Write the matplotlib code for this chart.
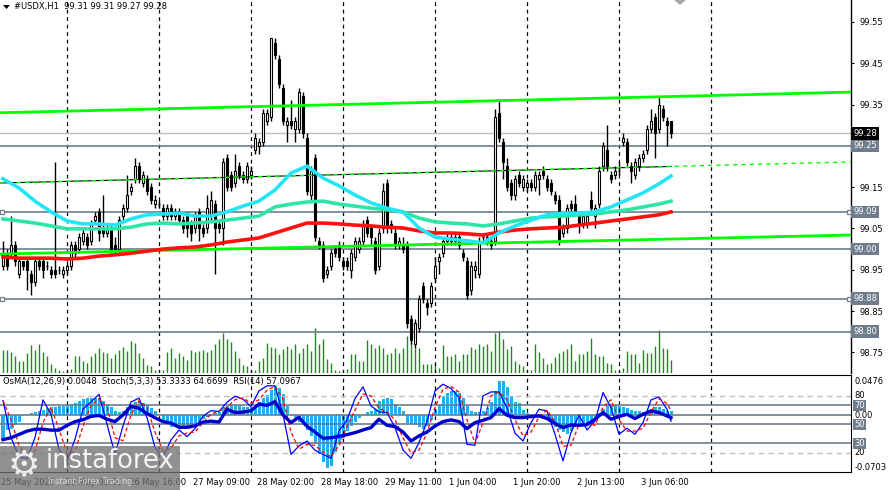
import numpy as np
import matplotlib.pyplot as plt
from matplotlib.patches import Rectangle, Polygon

W, H = 888, 490

# ---- H1 candles, #USDX (25 May - 3 Jun 2020) ----
opens = [
    98.96, 98.99, 98.99, 99.01, 98.94, 98.97, 98.97, 98.94, 98.92, 98.97, 98.97, 98.96,
    98.95, 98.95, 98.95, 98.94, 98.95, 98.96, 99.01, 99.00, 99.02, 99.03, 99.02, 99.07,
    99.09, 99.05, 99.04, 99.05, 99.01, 99.00, 99.08, 99.10, 99.14, 99.17, 99.20, 99.16,
    99.17, 99.15, 99.11, 99.11, 99.10, 99.08, 99.10, 99.08, 99.09, 99.07, 99.08, 99.06,
    99.05, 99.09, 99.05, 99.05, 99.08, 99.11, 99.06, 99.05, 99.22, 99.18, 99.16, 99.20,
    99.18, 99.17, 99.18, 99.24, 99.25, 99.26, 99.31, 99.32, 99.50, 99.46, 99.39, 99.30,
    99.31, 99.29, 99.29, 99.37, 99.27, 99.13, 99.22, 99.02, 99.01, 98.94, 98.96, 99.00,
    99.01, 98.97, 98.97, 98.95, 98.98, 99.00, 99.02, 99.07, 99.05, 99.02, 98.96, 99.05,
    99.16, 99.06, 99.04, 99.01, 99.01, 99.01, 98.83, 98.77, 98.81, 98.91, 98.87, 98.87,
    98.93, 98.97, 98.99, 99.02, 99.03, 99.03, 99.03, 98.99, 98.97, 98.90, 98.95, 98.94,
    99.03, 99.02, 99.02, 99.02, 99.33, 99.26, 99.20, 99.16, 99.13, 99.18, 99.15, 99.15,
    99.16, 99.15, 99.17, 99.19, 99.17, 99.16, 99.13, 99.12, 99.04, 99.05, 99.11, 99.11,
    99.08, 99.06, 99.06, 99.12, 99.08, 99.11, 99.20, 99.24, 99.18, 99.18, 99.19, 99.26,
    99.26, 99.20, 99.18, 99.20, 99.22, 99.24, 99.29, 99.32, 99.29, 99.34, 99.31, 99.31,
]
highs = [
    99.02, 99.00, 99.08, 99.02, 98.98, 98.97, 98.98, 98.95, 98.98, 98.98, 98.98, 98.97,
    98.96, 99.21, 98.96, 98.96, 98.97, 99.02, 99.02, 99.04, 99.05, 99.04, 99.07, 99.09,
    99.10, 99.13, 99.06, 99.06, 99.03, 99.08, 99.11, 99.18, 99.16, 99.22, 99.21, 99.19,
    99.18, 99.16, 99.13, 99.12, 99.11, 99.11, 99.11, 99.10, 99.10, 99.08, 99.09, 99.07,
    99.09, 99.10, 99.06, 99.13, 99.14, 99.12, 99.07, 99.22, 99.23, 99.19, 99.23, 99.21,
    99.19, 99.21, 99.20, 99.28, 99.27, 99.34, 99.34, 99.51, 99.51, 99.47, 99.40, 99.32,
    99.36, 99.32, 99.39, 99.38, 99.28, 99.20, 99.23, 99.03, 99.02, 98.96, 99.00, 99.01,
    99.02, 98.98, 98.98, 99.00, 99.03, 99.03, 99.07, 99.08, 99.06, 99.03, 99.05, 99.16,
    99.17, 99.07, 99.05, 99.03, 99.03, 99.02, 98.84, 98.83, 98.89, 98.92, 98.88, 98.92,
    98.98, 98.99, 99.03, 99.04, 99.04, 99.04, 99.04, 99.00, 98.98, 98.97, 98.97, 99.03,
    99.04, 99.04, 99.03, 99.34, 99.36, 99.27, 99.22, 99.17, 99.18, 99.19, 99.18, 99.17,
    99.17, 99.19, 99.19, 99.20, 99.18, 99.17, 99.14, 99.13, 99.06, 99.11, 99.12, 99.13,
    99.09, 99.09, 99.09, 99.14, 99.11, 99.20, 99.26, 99.30, 99.19, 99.20, 99.21, 99.28,
    99.27, 99.21, 99.22, 99.23, 99.24, 99.30, 99.34, 99.33, 99.37, 99.35, 99.32, 99.31,
]
lows = [
    98.95, 98.95, 98.98, 98.96, 98.93, 98.95, 98.90, 98.89, 98.91, 98.95, 98.93, 98.95,
    98.93, 98.93, 98.94, 98.93, 98.94, 98.95, 98.98, 98.99, 99.01, 99.00, 99.01, 99.06,
    99.02, 99.03, 99.03, 98.99, 98.99, 98.99, 99.07, 99.09, 99.13, 99.16, 99.16, 99.15,
    99.13, 99.11, 99.10, 99.10, 99.07, 99.07, 99.07, 99.07, 99.06, 99.04, 99.03, 99.02,
    99.04, 99.02, 99.03, 99.04, 99.07, 98.94, 99.04, 99.01, 99.14, 99.14, 99.15, 99.17,
    99.16, 99.16, 99.17, 99.23, 99.23, 99.25, 99.30, 99.31, 99.46, 99.39, 99.30, 99.26,
    99.29, 99.26, 99.28, 99.27, 99.13, 99.12, 99.02, 99.00, 98.92, 98.93, 98.95, 98.98,
    98.97, 98.95, 98.95, 98.93, 98.97, 98.99, 99.01, 99.03, 99.01, 98.94, 98.95, 99.04,
    99.04, 99.04, 99.00, 99.00, 98.99, 98.81, 98.77, 98.76, 98.80, 98.87, 98.84, 98.86,
    98.92, 98.94, 98.98, 99.01, 99.01, 99.01, 99.00, 98.97, 98.88, 98.89, 98.93, 98.93,
    99.02, 99.01, 99.00, 99.01, 99.26, 99.17, 99.14, 99.12, 99.12, 99.15, 99.14, 99.14,
    99.14, 99.14, 99.13, 99.17, 99.14, 99.13, 99.11, 99.01, 99.03, 99.04, 99.09, 99.08,
    99.04, 99.05, 99.05, 99.09, 99.05, 99.10, 99.19, 99.19, 99.16, 99.17, 99.18, 99.25,
    99.20, 99.16, 99.17, 99.19, 99.21, 99.23, 99.28, 99.22, 99.28, 99.31, 99.25, 99.27,
]
closes = [
    98.99, 98.96, 99.01, 98.97, 98.97, 98.96, 98.95, 98.92, 98.97, 98.96, 98.95, 98.96,
    98.94, 98.94, 98.95, 98.95, 98.96, 99.01, 98.99, 99.03, 99.04, 99.01, 99.06, 99.08,
    99.04, 99.04, 99.05, 99.00, 99.00, 99.07, 99.10, 99.13, 99.15, 99.20, 99.17, 99.18,
    99.14, 99.12, 99.12, 99.11, 99.08, 99.10, 99.08, 99.09, 99.07, 99.05, 99.05, 99.04,
    99.08, 99.05, 99.04, 99.10, 99.12, 99.05, 99.05, 99.21, 99.15, 99.15, 99.19, 99.18,
    99.17, 99.20, 99.19, 99.27, 99.26, 99.33, 99.33, 99.51, 99.47, 99.40, 99.31, 99.31,
    99.30, 99.31, 99.38, 99.28, 99.14, 99.19, 99.03, 99.01, 98.93, 98.95, 98.99, 98.99,
    98.98, 98.96, 98.96, 98.99, 99.02, 99.02, 99.06, 99.04, 99.03, 98.95, 99.04, 99.14,
    99.05, 99.05, 99.01, 99.02, 99.00, 98.82, 98.78, 98.82, 98.88, 98.88, 98.86, 98.91,
    98.96, 98.98, 99.02, 99.03, 99.02, 99.02, 99.01, 98.98, 98.89, 98.96, 98.96, 99.02,
    99.03, 99.03, 99.01, 99.32, 99.27, 99.21, 99.15, 99.13, 99.17, 99.16, 99.17, 99.16,
    99.15, 99.18, 99.18, 99.18, 99.15, 99.14, 99.12, 99.02, 99.05, 99.10, 99.10, 99.09,
    99.06, 99.08, 99.08, 99.10, 99.10, 99.19, 99.25, 99.20, 99.17, 99.19, 99.19, 99.27,
    99.21, 99.19, 99.21, 99.22, 99.23, 99.29, 99.31, 99.28, 99.35, 99.32, 99.30, 99.28,
]
volumes = [
    23, 23, 21, 17, 12, 12, 20, 28, 23, 29, 21, 17,
    9, 5, 3, 2, 2, 4, 17, 17, 12, 10, 17, 20,
    25, 21, 20, 15, 19, 23, 26, 22, 32, 30, 20, 15,
    8, 7, 3, 3, 3, 21, 25, 15, 20, 17, 13, 23,
    21, 22, 23, 21, 23, 29, 34, 40, 34, 31, 22, 15,
    8, 7, 3, 3, 12, 15, 30, 26, 25, 19, 24, 27,
    24, 29, 20, 25, 29, 22, 45, 29, 34, 14, 10, 3,
    2, 2, 4, 19, 19, 12, 12, 33, 29, 25, 28, 25,
    19, 20, 25, 20, 25, 37, 31, 25, 25, 9, 9, 9,
    10, 5, 28, 17, 17, 19, 12, 19, 19, 26, 24, 29,
    27, 29, 22, 40, 42, 34, 24, 27, 12, 9, 7, 3,
    3, 29, 21, 15, 9, 10, 16, 20, 22, 24, 29, 12,
    19, 19, 22, 35, 19, 17, 17, 10, 9, 3, 2, 5,
    22, 19, 19, 10, 23, 20, 20, 27, 43, 25, 24, 13,
]

# moving averages, read every 4th bar
ma_bars = list(range(0, 168, 4)) + [167]
ma_fast = [
    99.170, 99.148, 99.116, 99.090, 99.068, 99.061, 99.061, 99.058, 99.073, 99.083,
    99.085, 99.087, 99.080, 99.080, 99.090, 99.104, 99.116, 99.143, 99.184, 99.201,
    99.172, 99.153, 99.131, 99.112, 99.099, 99.090, 99.051, 99.029, 99.024, 99.020,
    99.015, 99.039, 99.056, 99.070, 99.083, 99.087, 99.087, 99.090, 99.102, 99.119,
    99.136, 99.158, 99.177,
]
ma_mid = [
    99.073, 99.068, 99.063, 99.056, 99.049, 99.049, 99.049, 99.049, 99.053, 99.061,
    99.063, 99.061, 99.063, 99.066, 99.070, 99.075, 99.080, 99.102, 99.109, 99.114,
    99.116, 99.109, 99.104, 99.099, 99.095, 99.090, 99.075, 99.066, 99.063, 99.061,
    99.056, 99.061, 99.068, 99.075, 99.078, 99.080, 99.083, 99.085, 99.090, 99.095,
    99.102, 99.109, 99.116,
]
ma_slow = [
    98.981, 98.978, 98.978, 98.978, 98.976, 98.978, 98.983, 98.986, 98.990, 98.995,
    99.000, 99.003, 99.005, 99.010, 99.017, 99.022, 99.027, 99.039, 99.051, 99.063,
    99.063, 99.061, 99.058, 99.056, 99.053, 99.051, 99.044, 99.039, 99.039, 99.037,
    99.034, 99.041, 99.046, 99.049, 99.051, 99.053, 99.058, 99.063, 99.068, 99.073,
    99.078, 99.083, 99.090,
]

# drawn objects
chart_span = [-0.75, 212]
upper_channel = [99.330, 99.380]
lower_channel = [98.988, 99.034]
mid_trend = [99.160, 99.211]
mid_trend_black = [99.160, 99.200]
levels = [99.25, 99.09, 99.00, 98.88, 98.80]
marked_levels = [99.09, 98.88]
bid = 99.28
price_ticks = [98.75, 98.85, 98.95, 99.05, 99.15, 99.35, 99.45, 99.55]
day_breaks = [16, 39, 62, 85, 108, 131, 154, 177]
time_bars = [0, 16, 32, 48, 64, 80, 96, 112, 128, 144, 160]
time_labels = ["25 May 2020", "26 May 00:00", "26 May 16:00", "27 May 09:00",
               "28 May 02:00", "28 May 18:00", "29 May 11:00", "1 Jun 04:00",
               "1 Jun 20:00", "2 Jun 13:00", "3 Jun 06:00"]

# ---- oscillators ----
osma = [
    -0.028, -0.018, -0.017, -0.012, -0.008, 0.001, 0.002, 0.003, 0.004, 0.006, 0.007, 0.009,
    0.010, 0.011, 0.012, 0.012, 0.013, 0.014, 0.015, 0.018, 0.020, 0.021, 0.022, 0.022,
    0.021, 0.018, 0.014, 0.010, 0.006, 0.004, 0.006, 0.010, 0.013, 0.016, 0.017, 0.015,
    0.013, 0.009, 0.005, 0.001, -0.010, -0.012, -0.014, -0.015, -0.016, -0.016, -0.015, -0.013,
    -0.011, -0.008, -0.004, -0.002, 0.002, 0.003, 0.004, 0.010, 0.012, 0.013, 0.013, 0.012,
    0.011, 0.010, 0.010, 0.012, 0.016, 0.021, 0.025, 0.031, 0.036, 0.034, 0.026, 0.012,
    0.002, -0.005, -0.008, -0.011, -0.018, -0.026, -0.036, -0.048, -0.058, -0.065, -0.063, -0.046,
    -0.036, -0.028, -0.020, -0.013, -0.008, -0.003, 0.002, 0.004, 0.006, 0.008, 0.018, 0.020,
    0.022, 0.020, 0.014, 0.010, 0.006, -0.009, -0.011, -0.012, -0.014, -0.017, -0.013, -0.006,
    0.007, 0.014, 0.024, 0.028, 0.030, 0.030, 0.028, 0.022, 0.012, 0.005, 0.004, 0.004,
    0.005, 0.009, 0.016, 0.030, 0.043, 0.043, 0.035, 0.024, 0.016, 0.015, 0.007, 0.003,
    0.002, 0.001, 0.002, -0.002, -0.006, -0.009, -0.015, -0.018, -0.021, -0.023, -0.019, -0.014,
    -0.013, -0.011, -0.010, -0.007, -0.003, 0.003, 0.008, 0.013, 0.014, 0.013, 0.012, 0.011,
    0.009, 0.007, 0.006, 0.005, 0.004, 0.006, 0.008, 0.010, 0.011, 0.008, 0.006, 0.0048,
]
osc_bars = list(range(0, 168, 2)) + [167]
stoch_main = [
    75.0, 36.2, 16.1, 14.0, 36.2, 75.8, 60.7, 23.9, 11.6, 34.4, 66.0, 73.7,
    81.8, 50.2, 18.6, 48.4, 73.7, 77.6, 57.2, 25.6, 16.1, 33.7, 44.2, 37.2,
    45.6, 58.6, 64.6, 63.5, 73.4, 79.7, 76.5, 68.8, 85.3, 90.6, 90.6, 60.7,
    18.6, 27.4, 32.6, 22.8, 18.6, 14.4, 43.2, 54.8, 77.2, 89.5, 69.5, 63.2,
    62.5, 46.7, 23.2, 14.4, 30.9, 52.7, 85.3, 92.3, 87.8, 78.3, 29.1, 28.1,
    80.0, 84.2, 84.2, 67.7, 40.7, 32.6, 51.9, 66.0, 64.2, 39.7, 11.6, 41.4,
    59.7, 44.2, 53.7, 83.5, 67.7, 39.7, 46.0, 39.7, 51.9, 75.8, 79.0, 66.0,
    53.3,
]
stoch_signal = [
    75, 55, 28, 17, 22, 52, 68, 45, 20, 22, 48, 70,
    77, 68, 36, 33, 60, 75, 68, 42, 22, 25, 38, 41,
    42, 52, 61, 64, 68, 76, 78, 72, 76, 86, 90, 77,
    42, 24, 29, 28, 21, 16, 28, 48, 65, 82, 80, 67,
    63, 55, 36, 20, 23, 41, 68, 87, 90, 84, 55, 30,
    52, 80, 84, 76, 55, 38, 42, 58, 65, 53, 27, 28,
    50, 52, 49, 68, 76, 55, 43, 43, 46, 63, 77, 72,
    64.7,
]
rsi = [
    34.0, 36.0, 39.5, 43.0, 45.0, 45.0, 44.0, 44.0, 49.0, 53.0, 55.0, 58.5,
    59.5, 55.5, 53.0, 60.0, 69.0, 67.0, 61.5, 57.0, 53.0, 51.5, 47.0, 47.0,
    48.5, 52.5, 53.5, 52.5, 66.0, 62.5, 63.0, 64.5, 71.5, 70.0, 74.0, 60.0,
    52.0, 57.5, 48.0, 42.0, 35.5, 36.0, 37.5, 39.3, 41.4, 44.2, 46.7, 55.5,
    49.1, 47.7, 42.1, 32.6, 37.9, 42.1, 48.4, 53.0, 54.8, 53.0, 45.6, 51.9,
    54.4, 57.2, 66.7, 59.7, 57.2, 57.2, 58.3, 59.0, 56.2, 51.2, 46.7, 49.5,
    49.1, 49.8, 55.5, 62.5, 55.5, 58.3, 60.7, 56.2, 60.7, 64.2, 62.5, 59.0,
    57.1,
]

# ---- figure ----
fig = plt.figure(figsize=(W / 100, H / 100), dpi=100)
fig.patch.set_facecolor("white")
FONT = "DejaVu Sans"
FS = 6.0
SLATE = "#6f7d8c"


def px(x, y):
    return x / W, 1 - y / H


main_rect = [0, 1 - 373 / H, 851 / W, 373 / H]
ax_vol = fig.add_axes(main_rect)
ax = fig.add_axes(main_rect)
ax.patch.set_alpha(0)
ax_low = fig.add_axes([0, 1 - 472 / H, 851 / W, 97 / H])
ax_osma = ax_low.twinx()
ax_low.set_zorder(ax_osma.get_zorder() + 1)
ax_low.patch.set_visible(False)

for a in (ax_vol, ax, ax_low, ax_osma):
    a.set_xlim(*chart_span)
    a.set_xticks([])

# volumes
idx = np.arange(len(closes))
ax_vol.vlines(idx, 0, volumes, color="#1d8a1d", lw=1)
ax_vol.set_ylim(0, 373)
ax_vol.axis("off")

# main price panel
ax.set_ylim(98.700, 99.603)
for s in ("top", "left", "bottom"):
    ax.spines[s].set_visible(False)
ax.spines["right"].set_linewidth(1)
ax.yaxis.tick_right()
ax.set_yticks(price_ticks)
ax.set_yticklabels([f"{p:.2f}" for p in price_ticks], fontsize=FS, family=FONT)
ax.tick_params(axis="y", length=2, pad=4)

for b in day_breaks:
    ax.axvline(b, color="black", lw=0.9, ls=(0, (3, 3)), zorder=1)
    ax_low.axvline(b, color="black", lw=0.9, ls=(0, (3, 3)), zorder=1)

ax.axhline(bid, color="#c0c0c0", lw=1, zorder=1.5)
for lv in levels:
    ax.axhline(lv, color=SLATE, lw=1.2, zorder=1.6)
for lv in marked_levels:
    ax.plot([chart_span[0] + 0.5, chart_span[1] - 0.5], [lv, lv], ls="none", marker="s", ms=3.5,
            mfc="white", mec=SLATE, mew=0.9, clip_on=False, zorder=6)

o = np.array(opens)
c = np.array(closes)
up = c >= o
ax.vlines(idx, lows, highs, color="black", lw=1, zorder=3)
ax.bar(idx[up], c[up] - o[up], bottom=o[up], width=0.72, color="white",
       edgecolor="black", lw=0.8, zorder=4)
ax.bar(idx[~up], o[~up] - c[~up], bottom=c[~up], width=0.72, color="black",
       edgecolor="black", lw=0.8, zorder=4)

ax.plot(chart_span, upper_channel, color="#00ff00", lw=2, zorder=5)
ax.plot(chart_span, lower_channel, color="#00ff00", lw=2, zorder=5)
ax.plot([chart_span[0], idx[-1]], mid_trend_black, color="black", lw=0.8, zorder=5)
ax.plot(chart_span, mid_trend, color="#00ff00", lw=1, ls=(0, (3, 3)), zorder=5.1)

ax.plot(ma_bars, ma_slow, color="#ff1010", lw=2.6, zorder=5.2)
ax.plot(ma_bars, ma_mid, color="#2ee6a4", lw=2.6, zorder=5.3)
ax.plot(ma_bars, ma_fast, color="#22e6f6", lw=2.6, zorder=5.4)

tr = ax.get_yaxis_transform()
for lv in levels:
    ax.text(1.0025, lv, f"{lv:.2f}", transform=tr, ha="left", va="center", fontsize=FS,
            family=FONT, color="white", zorder=7,
            bbox=dict(boxstyle="square,pad=0.22", fc=SLATE, ec="none"))
ax.text(1.0025, bid, f"{bid:.2f}", transform=tr, ha="left", va="center", fontsize=FS,
        family=FONT, color="white", zorder=8,
        bbox=dict(boxstyle="square,pad=0.22", fc="black", ec="none"))

# oscillator panel
ax_low.set_ylim(0, 102)
ax_osma.set_ylim(-0.0703, 0.0501)
for a in (ax_low, ax_osma):
    a.set_yticks([])
    a.spines["left"].set_visible(False)
ax_osma.spines["top"].set_visible(False)
ax_osma.spines["bottom"].set_visible(False)
ax_osma.spines["right"].set_visible(False)

ax_osma.bar(idx, osma, width=0.75, color="#1fb0f0", lw=0)
ax_osma.axhline(0, color=SLATE, lw=1.2)
for lv in (80, 20):
    ax_low.axhline(lv, color="#c0c0c0", lw=1, ls=(0, (4, 3)), zorder=1)
for lv in (70, 50, 30):
    ax_low.axhline(lv, color=SLATE, lw=1.2, zorder=1)
ax_low.plot(osc_bars, stoch_main, color="#0000ff", lw=0.9, zorder=3)
ax_low.plot(osc_bars, stoch_signal, color="#ff0000", lw=0.9, ls=(0, (3, 2)), zorder=3)
ax_low.plot(osc_bars, rsi, color="#0000cd", lw=2.4, zorder=4)

tl = ax_low.get_yaxis_transform()
to = ax_osma.get_yaxis_transform()
ax_osma.text(1.004, 0.0476, "0.0476", transform=to, ha="left", va="top", fontsize=FS, family=FONT)
ax_osma.text(1.004, 0.0, "0.00", transform=to, ha="left", va="center", fontsize=FS, family=FONT)
ax_osma.text(1.004, -0.0703, "-0.0703", transform=to, ha="left", va="bottom", fontsize=FS, family=FONT)
for lv in (80, 20):
    ax_low.text(1.004, lv, str(lv), transform=tl, ha="left", va="center", fontsize=FS, family=FONT,
                clip_on=False)
for lv in (70, 50, 30):
    ax_low.text(1.004, lv, str(lv), transform=tl, ha="left", va="center", fontsize=FS, family=FONT,
                color="white", clip_on=False,
                bbox=dict(boxstyle="square,pad=0.15", fc=SLATE, ec="none"))

ax_low.text(0.004, 0.93, "OsMA(12,26,9) 0.0048  Stoch(5,3,3) 53.3333 64.6699  RSI(14) 57.0967",
            transform=ax_low.transAxes, ha="left", va="center", fontsize=FS, family=FONT, zorder=6)

# time axis
for b, lab in zip(time_bars, time_labels):
    ax_low.annotate(lab, xy=(b - 0.75, 0), xycoords=("data", "axes fraction"),
                    xytext=(1, -10), textcoords="offset pixels", ha="left", va="center",
                    fontsize=FS, family=FONT, annotation_clip=False)

# header
fig.text(*px(14, 7), "#USDX,H1  99.31 99.31 99.27 99.28", fontsize=FS, family=FONT, va="center")
fig.patches.append(Polygon([px(3, 5), px(10, 5), px(6.5, 9)], closed=True, fc="black", ec="none",
                           transform=fig.transFigure, figure=fig))
fig.patches.append(Polygon([px(674, 0), px(686, 0), px(680, 5)], closed=True, fc="#a8a8a8", ec="none",
                           transform=fig.transFigure, figure=fig))

# watermark (overlays the chart corner, as in the source)
fig.patches.append(Rectangle(px(0, 490), 180 / W, 44 / H, transform=fig.transFigure, figure=fig,
                             fc="#727272", ec="none", alpha=0.78, zorder=10))
fig.text(*px(24, 465), "\u2699", fontsize=26, color="white", alpha=0.85, ha="center", va="center",
         family=FONT, zorder=11)
fig.text(*px(46, 461), "instaforex", fontsize=18.5, color="white", alpha=0.9, ha="left", va="center",
         family=FONT, zorder=11)
fig.text(*px(48, 481), "Instant Forex Trading", fontsize=5.8, color="#e0e0e0", alpha=0.9,
         ha="left", va="center", family=FONT, zorder=11)

fig.savefig("out.png", dpi=100, facecolor="white")
